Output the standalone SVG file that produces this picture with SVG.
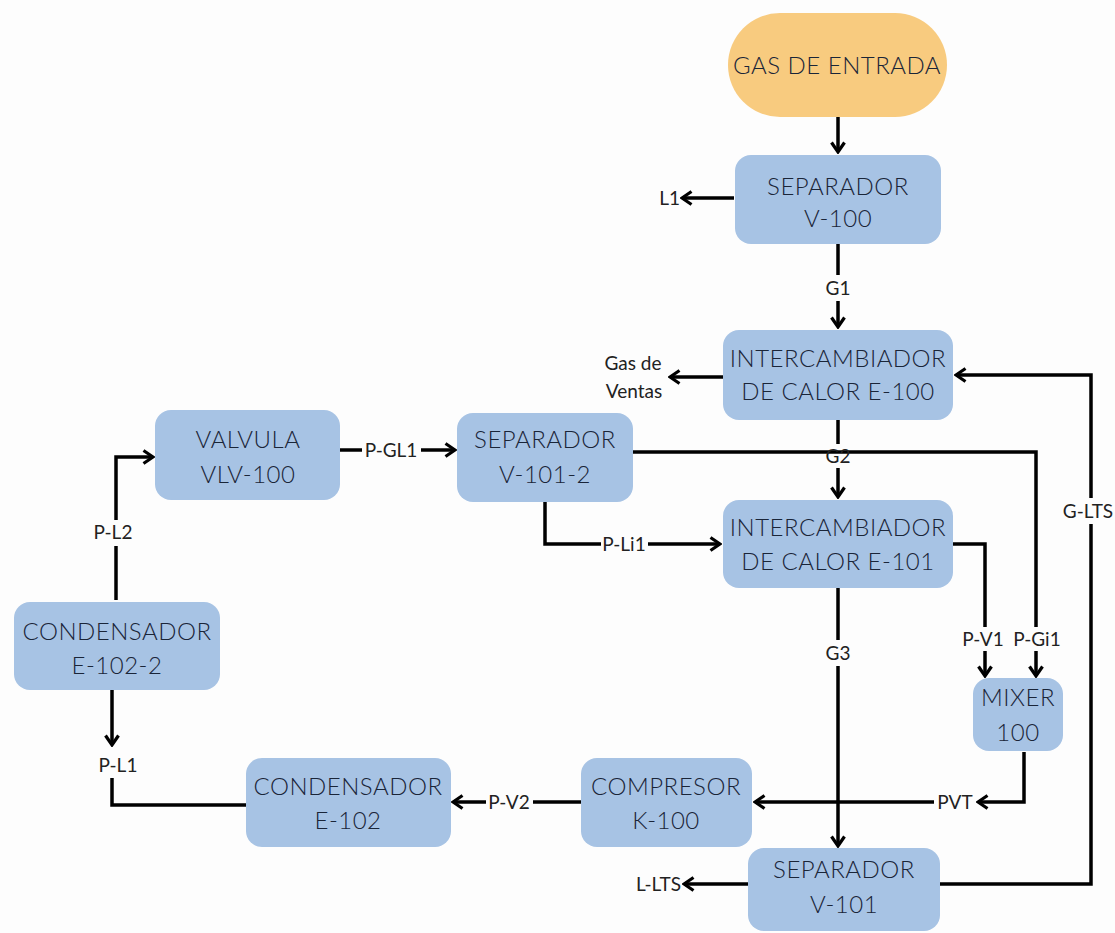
<svg xmlns="http://www.w3.org/2000/svg" width="1115" height="933" viewBox="0 0 1115 933">
<defs>
<marker id="ah" viewBox="0 0 13 16" refX="11" refY="8" markerWidth="13" markerHeight="16" markerUnits="userSpaceOnUse" orient="auto">
<path d="M1.5,1.5 L11,8 L1.5,14.5" fill="none" stroke="#000" stroke-width="3.2" stroke-linejoin="miter"/>
</marker>
<style>
.bg{fill:#fdfdfd}
.box{fill:#a7c3e4}
.pill{fill:#f8cb7f}
.t{font-family:"Lato","Liberation Sans",sans-serif;font-size:24px;font-weight:300;letter-spacing:0.5px;fill:#1a2538;text-anchor:middle}
.l{font-family:"Lato","Liberation Sans",sans-serif;font-size:19px;fill:#222;text-anchor:middle}
.e{text-anchor:end}
.c{fill:none;stroke:#000;stroke-width:3.5}
.a{marker-end:url(#ah)}
</style>
</defs>
<rect class="bg" x="0" y="0" width="1115" height="933"/>

<g id="connectors">
<path class="c a" d="M838,117 V152"/>
<path class="c a" d="M734,198 H682"/>
<path class="c" d="M838,244 V275"/>
<path class="c a" d="M838,301 V327"/>
<path class="c a" d="M723,377 H670"/>
<path class="c" d="M940,884 H1091 V524"/>
<path class="c a" d="M1091,498 V375 H956"/>
<path class="c" d="M838,420 V444"/>
<path class="c a" d="M838,468 V497"/>
<path class="c" d="M633,452 H1036 V627"/>
<path class="c a" d="M1036,651 V676"/>
<path class="c" d="M340,450 H362"/>
<path class="c a" d="M421,450 H455"/>
<path class="c" d="M116,600 V546"/>
<path class="c a" d="M116,520 V457 H153"/>
<path class="c" d="M545,502 V544 H601"/>
<path class="c a" d="M648,544 H720"/>
<path class="c" d="M953,544 H985 V627"/>
<path class="c a" d="M985,651 V676"/>
<path class="c a" d="M1024,752 V802 H978"/>
<path class="c a" d="M934,802 H755"/>
<path class="c" d="M838,588 V640"/>
<path class="c a" d="M838,666 V846"/>
<path class="c" d="M581,802 H533"/>
<path class="c a" d="M486,802 H453"/>
<path class="c a" d="M112,690 V745"/>
<path class="c" d="M246,805 H112 V778"/>
<path class="c a" d="M748,884 H684"/>
</g>

<g id="labels">
<text class="l e" x="680" y="205">L1</text>
<text class="l" x="838" y="295">G1</text>
<text class="l" x="633" y="370">Gas de</text>
<text class="l" x="634" y="398">Ventas</text>
<text class="l" x="1088" y="518">G-LTS</text>
<text class="l" x="838" y="463">G2</text>
<text class="l" x="391" y="457">P-GL1</text>
<text class="l" x="113" y="539">P-L2</text>
<text class="l" x="624" y="551">P-Li1</text>
<text class="l" x="983" y="646">P-V1</text>
<text class="l" x="1037" y="646">P-Gi1</text>
<text class="l" x="955" y="809">PVT</text>
<text class="l" x="838" y="660">G3</text>
<text class="l" x="509" y="809">P-V2</text>
<text class="l" x="118" y="772">P-L1</text>
<text class="l e" x="681" y="891">L-LTS</text>
</g>

<g id="gas-entrada">
<rect class="pill" x="728" y="13" width="219" height="104" rx="52"/>
<text class="t" x="837" y="74">GAS DE ENTRADA</text>
</g>
<g id="v-100">
<rect class="box" x="735" y="155" width="206" height="89" rx="16"/>
<text class="t" x="838" y="195">SEPARADOR</text>
<text class="t" x="838" y="227">V-100</text>
</g>
<g id="e-100">
<rect class="box" x="723" y="330" width="230" height="90" rx="16"/>
<text class="t" x="838" y="367">INTERCAMBIADOR</text>
<text class="t" x="838" y="400">DE CALOR E-100</text>
</g>
<g id="vlv-100">
<rect class="box" x="155" y="410" width="185" height="90" rx="16"/>
<text class="t" x="248" y="448">VALVULA</text>
<text class="t" x="248" y="483">VLV-100</text>
</g>
<g id="v-101-2">
<rect class="box" x="457" y="413" width="176" height="89" rx="16"/>
<text class="t" x="545" y="448">SEPARADOR</text>
<text class="t" x="545" y="483">V-101-2</text>
</g>
<g id="e-101">
<rect class="box" x="723" y="500" width="230" height="88" rx="16"/>
<text class="t" x="838" y="536">INTERCAMBIADOR</text>
<text class="t" x="838" y="570">DE CALOR E-101</text>
</g>
<g id="e-102-2">
<rect class="box" x="14" y="602" width="206" height="88" rx="16"/>
<text class="t" x="117" y="640">CONDENSADOR</text>
<text class="t" x="117" y="674">E-102-2</text>
</g>
<g id="mixer-100">
<rect class="box" x="973" y="678" width="90" height="73" rx="16"/>
<text class="t" x="1018" y="706">MIXER</text>
<text class="t" x="1018" y="741">100</text>
</g>
<g id="e-102">
<rect class="box" x="246" y="758" width="205" height="89" rx="16"/>
<text class="t" x="348" y="795">CONDENSADOR</text>
<text class="t" x="348" y="829">E-102</text>
</g>
<g id="k-100">
<rect class="box" x="581" y="758" width="171" height="89" rx="16"/>
<text class="t" x="666" y="795">COMPRESOR</text>
<text class="t" x="666" y="829">K-100</text>
</g>
<g id="v-101">
<rect class="box" x="748" y="848" width="192" height="83" rx="16"/>
<text class="t" x="844" y="878">SEPARADOR</text>
<text class="t" x="844" y="913">V-101</text>
</g>
</svg>
